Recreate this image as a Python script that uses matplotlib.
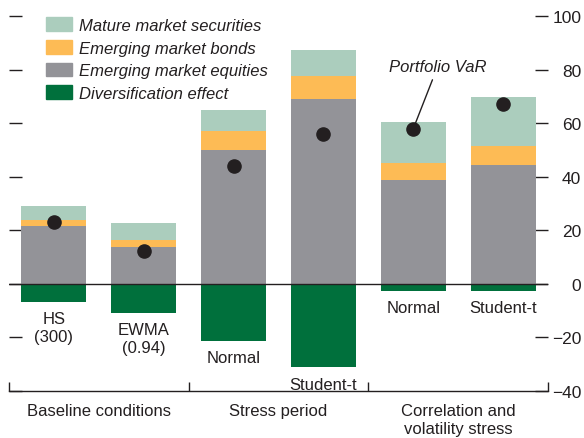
import matplotlib.pyplot as plt
from matplotlib.patches import Patch
import numpy as np

plt.rcParams['font.family'] = ['Liberation Sans Narrow', 'Liberation Sans', 'DejaVu Sans']

# VaR components per scenario (percent)
categories = ['HS\n(300)', 'EWMA\n(0.94)', 'Normal', 'Student-t', 'Normal', 'Student-t']
groups = ['Baseline conditions', 'Stress period', 'Correlation and\nvolatility stress']
em_equities = [21.6, 13.9, 49.8, 69.1, 38.9, 44.4]
em_bonds = [2.3, 2.3, 7.4, 8.5, 6.4, 7.1]
mature = [5.2, 6.6, 7.8, 9.7, 15.2, 18.4]
diversification = [-6.6, -10.7, -21.2, -31.2, -2.5, -2.5]
portfolio_var = [23.0, 12.1, 44.0, 55.9, 57.9, 67.1]

C_MATURE = '#abcdbd'
C_BONDS = '#fdbb55'
C_EQUITY = '#939398'
C_DIVERS = '#00703c'
C_TEXT = '#231f20'
FS = 12

fig = plt.figure(figsize=(5.84, 4.39), dpi=100)
ax = fig.add_axes([9 / 584, 47 / 439, 539 / 584, 383 / 439])

x = np.arange(len(categories))
w = 0.725
eq = np.array(em_equities)
bd = np.array(em_bonds)
ax.bar(x, eq, w, color=C_EQUITY, zorder=2)
ax.bar(x, bd, w, bottom=eq, color=C_BONDS, zorder=2)
ax.bar(x, mature, w, bottom=eq + bd, color=C_MATURE, zorder=2)
ax.bar(x, diversification, w, color=C_DIVERS, zorder=2)
ax.scatter(x, portfolio_var, s=90, color=C_TEXT, zorder=4)
ax.axhline(0, color=C_TEXT, lw=1.0, zorder=3)

ax.set_xlim(-0.5, 5.5)
ax.set_ylim(-40, 103)

# category names under each bar
for xi, lab, d in zip(x, categories, diversification):
    ax.annotate(lab, xy=(xi, d), xytext=(0, -7), textcoords='offset points',
                ha='center', va='top', fontsize=FS, color=C_TEXT, linespacing=1.25)

# group bracket along the bottom
for s in ['top', 'left', 'right']:
    ax.spines[s].set_visible(False)
ax.spines['bottom'].set_color(C_TEXT)
ax.spines['bottom'].set_linewidth(1.0)
ax.set_xticks([-0.5, 1.5, 3.5, 5.5])
ax.set_xticklabels([])
ax.tick_params(axis='x', direction='in', length=6.5, width=1.0, color=C_TEXT)
for gx, g in zip([0.5, 2.5, 4.5], groups):
    ax.text(gx, -44.5, g, ha='center', va='top', fontsize=FS, color=C_TEXT,
            linespacing=1.25)

# y axis: dashes on both sides, labels on the right
ax.set_yticks(range(-40, 101, 20))
ax.yaxis.set_ticks_position('both')
ax.tick_params(axis='y', direction='in', length=9.5, width=1.0, color=C_TEXT,
               labelleft=False, labelright=True, labelsize=12.5,
               labelcolor=C_TEXT, pad=24)
for t in ax.get_yticklabels():
    t.set_horizontalalignment('right')

ax.annotate('Portfolio VaR', xy=(4, portfolio_var[4]), xytext=(4.27, 81),
            ha='center', va='center', fontsize=FS, style='italic', color=C_TEXT,
            arrowprops=dict(arrowstyle='-', color=C_TEXT, lw=1.0,
                            shrinkA=2, shrinkB=0))

handles = [Patch(color=C_MATURE), Patch(color=C_BONDS),
           Patch(color=C_EQUITY), Patch(color=C_DIVERS)]
labels = ['Mature market securities', 'Emerging market bonds',
          'Emerging market equities', 'Diversification effect']
leg = ax.legend(handles, labels, loc='upper left', bbox_to_anchor=(0.0686, 0.976),
                frameon=False, borderpad=0, borderaxespad=0,
                prop={'size': FS, 'style': 'italic'},
                handlelength=1.55, handleheight=0.9, handletextpad=0.45,
                labelspacing=0.42)
for t in leg.get_texts():
    t.set_color(C_TEXT)

fig.savefig('out.png', dpi=100)
